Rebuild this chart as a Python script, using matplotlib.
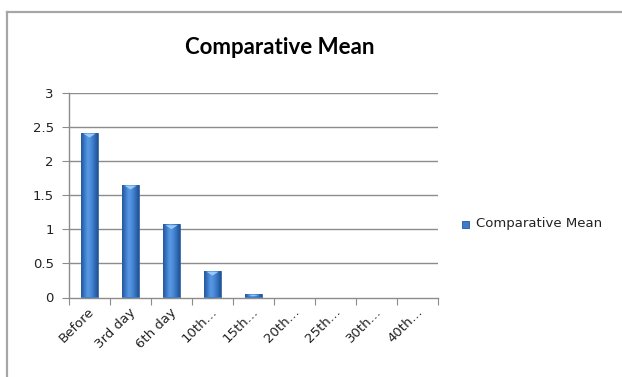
import numpy as np
import matplotlib
matplotlib.use("Agg")
import matplotlib.pyplot as plt
from matplotlib.colors import LinearSegmentedColormap
from matplotlib.patches import Rectangle
from matplotlib.lines import Line2D

categories = ["Before", "3rd day", "6th day", "10th\u2026", "15th\u2026",
              "20th\u2026", "25th\u2026", "30th\u2026", "40th\u2026"]
values = [2.41, 1.65, 1.07, 0.39, 0.05, 0, 0, 0, 0]
series_name = "Comparative Mean"
y_ticks = [0, 0.5, 1, 1.5, 2, 2.5, 3]
y_tick_labels = ["0", "0.5", "1", "1.5", "2", "2.5", "3"]

W, H = 622, 377
fig = plt.figure(figsize=(W / 100, H / 100), dpi=100)
fig.patch.set_facecolor("white")

# outer chart frame (top and left edges visible)
frame_col = "#a6a6a6"
fig.add_artist(Line2D([7 / W, 1.0], [1 - 12 / H, 1 - 12 / H], color=frame_col, lw=1.6))
fig.add_artist(Line2D([7 / W, 7 / W], [0.0, 1 - 12 / H], color=frame_col, lw=1.6))

left, right = 69 / W, 438 / W
bottom, top = 1 - 297.5 / H, 1 - 92.5 / H
ax = fig.add_axes([left, bottom, right - left, top - bottom])

n = len(categories)
ax.set_xlim(-0.5, n - 0.5)
ax.set_ylim(0, 3)

grid_col = "#8c8c8c"
for yv in y_ticks[1:]:
    ax.axhline(yv, color=grid_col, lw=1.0, zorder=1)

# bars with a horizontal shading gradient
cmap = LinearSegmentedColormap.from_list(
    "barshade", ["#24569a", "#3a78c6", "#5a9ae4", "#4b8ad8", "#3270be", "#22528f"])
grad = np.linspace(0, 1, 64).reshape(1, -1)
bar_w = 0.4
bars = ax.bar(range(n), values, width=bar_w, color="#3d7cc9", zorder=2,
              edgecolor="#24569a", linewidth=0.5)
for b in bars:
    h = b.get_height()
    if h <= 0:
        continue
    x0 = b.get_x()
    im = ax.imshow(grad, cmap=cmap, aspect="auto", extent=(x0, x0 + bar_w, 0, h),
                   zorder=3, interpolation="bicubic")
    im.set_clip_path(b)
    # light bevel at the top of each bar
    bev = min(0.07, h * 0.6)
    ax.fill([x0 + 0.05, x0 + bar_w - 0.05, x0 + bar_w / 2],
            [h - 0.012, h - 0.012, h - bev], color="#9cc9f4", zorder=4, lw=0)

ax.set_xlim(-0.5, n - 0.5)
ax.set_ylim(0, 3)

for s in ["top", "right"]:
    ax.spines[s].set_visible(False)
for s in ["left", "bottom"]:
    ax.spines[s].set_color(grid_col)
    ax.spines[s].set_linewidth(1.0)
    ax.spines[s].set_zorder(5)

ax.set_yticks(y_ticks)
ax.set_yticklabels(y_tick_labels)
ax.tick_params(axis="y", direction="out", length=5, color=grid_col, pad=6,
               labelsize=9.5, labelcolor="#222222")

ax.set_xticks(np.arange(-0.5, n, 1.0))
ax.set_xticklabels([])
ax.tick_params(axis="x", direction="out", length=5, color=grid_col)
for i, lab in enumerate(categories):
    ax.annotate(lab, xy=(i, 0), xycoords=("data", "axes fraction"),
                xytext=(2, -9), textcoords="offset points",
                rotation=45, rotation_mode="anchor", ha="right", va="center",
                fontsize=9.5, color="#222222")

fig.text(280 / W, 1 - 47 / H, "Comparative Mean", ha="center", va="center",
         fontsize=16, fontweight="bold", family="Lato", color="#000000")

# legend entry
lx, ly = 465 / W, 1 - 224 / H
fig.add_artist(Rectangle((lx - 3.5 / W, ly - 3.5 / H), 7 / W, 7 / H,
                         transform=fig.transFigure, facecolor="#3d7cc9",
                         edgecolor="#24569a", lw=0.6))
fig.text(476 / W, ly, series_name, ha="left", va="center", fontsize=9.5,
         color="#222222")

fig.savefig("out.png", dpi=100, facecolor="white")
